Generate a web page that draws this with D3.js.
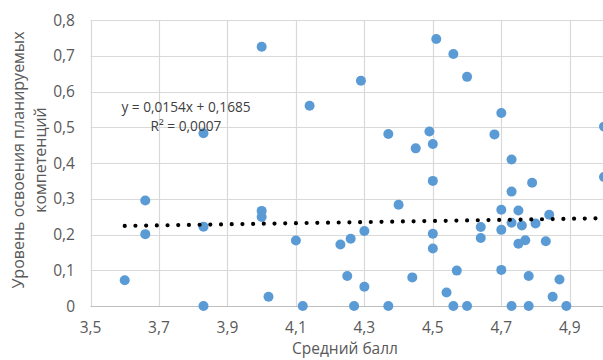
<!DOCTYPE html>
<html>
<head>
<meta charset="utf-8">
<script src="https://cdn.jsdelivr.net/npm/d3@7"></script>
<style>
  html, body { margin: 0; padding: 0; background: #fff; overflow: hidden; }
  svg { display: block; font-family: "Open Sans", sans-serif; }
</style>
</head>
<body>
<div id="chart"></div>
<script>
// средний балл
const xValues = [3.60, 3.66, 3.66, 3.83, 3.83, 3.83, 4.00, 4.00, 4.00, 4.02,
  4.10, 4.12, 4.14, 4.23, 4.25, 4.26, 4.27, 4.29, 4.30, 4.30,
  4.37, 4.37, 4.40, 4.44, 4.45, 4.49, 4.50, 4.50, 4.50, 4.50,
  4.51, 4.54, 4.56, 4.56, 4.57, 4.60, 4.60, 4.64, 4.64, 4.68,
  4.70, 4.70, 4.70, 4.70, 4.73, 4.73, 4.73, 4.73, 4.75, 4.75,
  4.76, 4.77, 4.78, 4.78, 4.79, 4.80, 4.83, 4.84, 4.85, 4.87,
  4.89, 5.00, 5.00]
// уровень освоения
const yValues = [0.072, 0.295, 0.201, 0.483, 0.222, 0.0, 0.725, 0.266, 0.249, 0.026,
  0.183, 0.0, 0.560, 0.172, 0.084, 0.188, 0.0, 0.630, 0.210, 0.054,
  0.481, 0.0, 0.283, 0.080, 0.441, 0.488, 0.453, 0.350, 0.202, 0.161,
  0.747, 0.038, 0.705, 0.0, 0.099, 0.641, 0.0, 0.221, 0.190, 0.480,
  0.540, 0.269, 0.213, 0.101, 0.410, 0.320, 0.233, 0.0, 0.267, 0.174,
  0.225, 0.184, 0.084, 0.0, 0.345, 0.231, 0.181, 0.255, 0.026, 0.074,
  0.0, 0.502, 0.361]
const xTicks = [3.5, 3.7, 3.9, 4.1, 4.3, 4.5, 4.7, 4.9]
const yTicks = [0, 0.1, 0.2, 0.3, 0.4, 0.5, 0.6, 0.7, 0.8]
const trend = { slope: 0.0154, intercept: 0.1685, r2: 0.0007 }

const w = 603, h = 360
const fmt = v => String(v).replace('.', ',')

const x = d3.scaleLinear().domain([3.5, 5.0]).range([90.5, 604])
const y = d3.scaleLinear().domain([0, 0.8]).range([306, 20])

const svg = d3.select('#chart').append('svg')
  .attr('width', w)
  .attr('height', h)

// grid
svg.append('g').selectAll('line.h')
  .data(yTicks)
  .enter().append('line')
  .attr('x1', x(3.5)).attr('x2', x(5.0))
  .attr('y1', d => Math.round(y(d)) + 0.5).attr('y2', d => Math.round(y(d)) + 0.5)
  .attr('stroke', d => d === 0 ? '#bfbfbf' : '#d9d9d9')
  .attr('stroke-width', 1.2)
svg.append('g').selectAll('line.v')
  .data(xTicks)
  .enter().append('line')
  .attr('x1', d => Math.round(x(d)) + 0.5).attr('x2', d => Math.round(x(d)) + 0.5)
  .attr('y1', y(0.8)).attr('y2', y(0))
  .attr('stroke', '#d9d9d9')
  .attr('stroke-width', 1.2)

// tick labels
svg.append('g').selectAll('text')
  .data(yTicks)
  .enter().append('text')
  .attr('x', 75)
  .attr('y', d => y(d) + 5.5)
  .attr('text-anchor', 'end')
  .attr('font-size', '15.5px')
  .attr('fill', '#595959')
  .text(d => fmt(d))
svg.append('g').selectAll('text')
  .data(xTicks)
  .enter().append('text')
  .attr('x', d => x(d))
  .attr('y', 333)
  .attr('text-anchor', 'middle')
  .attr('font-size', '15.5px')
  .attr('fill', '#595959')
  .text(d => fmt(d))

// axis titles
svg.append('text')
  .attr('x', 345).attr('y', 354)
  .attr('text-anchor', 'middle')
  .attr('font-size', '15.5px')
  .attr('fill', '#595959')
  .text('Средний балл')
const yt = svg.append('text')
  .attr('transform', 'translate(0,160) rotate(-90)')
  .attr('text-anchor', 'middle')
  .attr('font-size', '16px')
  .attr('fill', '#595959')
yt.append('tspan').attr('x', 0).attr('y', 24).text('Уровень освоения планируемых')
yt.append('tspan').attr('x', 0).attr('y', 46).text('компетенций')

// points
const data = xValues.map((v, i) => ({ x: v, y: yValues[i] }))
svg.append('g').selectAll('circle')
  .data(data)
  .enter().append('circle')
  .attr('cx', d => x(d.x))
  .attr('cy', d => y(d.y))
  .attr('r', 5)
  .attr('fill', '#5b9bd5')

// trend line
const x0 = d3.min(xValues), x1 = d3.max(xValues)
svg.append('line')
  .attr('x1', x(x0)).attr('y1', y(trend.slope * x0 + trend.intercept))
  .attr('x2', x(x1)).attr('y2', y(trend.slope * x1 + trend.intercept))
  .attr('stroke', '#000')
  .attr('stroke-width', 4.2)
  .attr('stroke-linecap', 'round')
  .attr('stroke-dasharray', '0 10.7')

// equation
const eq = svg.append('text')
  .attr('text-anchor', 'middle')
  .attr('font-size', '13.7px')
  .attr('fill', '#404040')
eq.append('tspan').attr('x', 186).attr('y', 112)
  .text(`y = ${fmt(trend.slope)}x + ${fmt(trend.intercept)}`)
eq.append('tspan').attr('x', 186).attr('y', 131)
  .text(`R² = ${fmt(trend.r2)}`)
</script>
</body>
</html>
